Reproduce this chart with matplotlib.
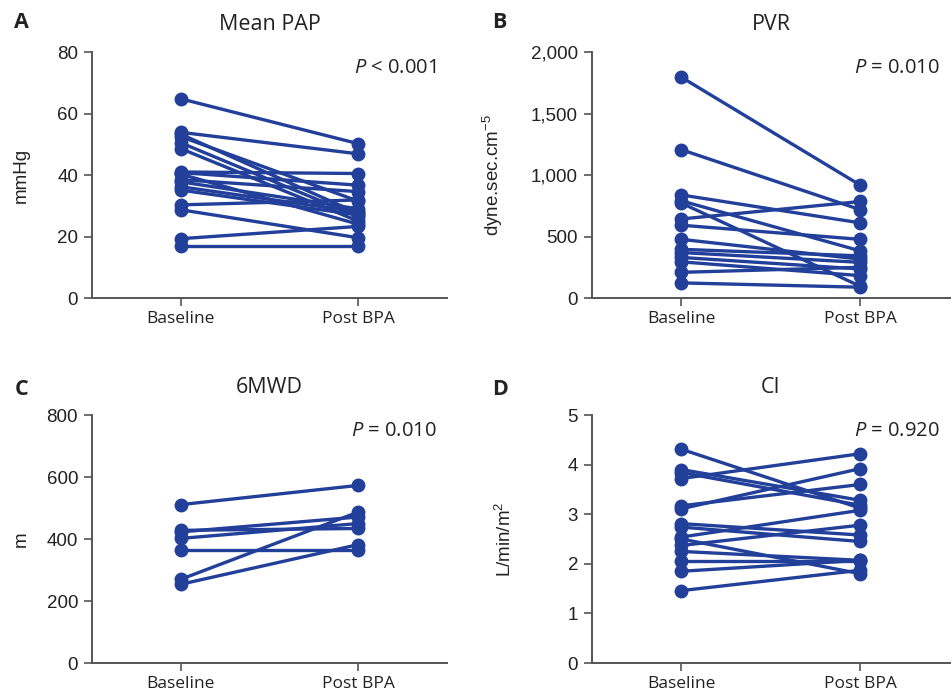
import matplotlib
matplotlib.use("Agg")
import matplotlib.pyplot as plt
from matplotlib.ticker import FuncFormatter

plt.rcParams["font.family"] = ["Liberation Sans", "DejaVu Sans"]
plt.rcParams["mathtext.fontset"] = "custom"
plt.rcParams["mathtext.rm"] = "Liberation Sans"
plt.rcParams["mathtext.it"] = "Open Sans:italic"

# -------- data --------
groups = ["Baseline", "Post BPA"]

pap_base = [64.8, 53.9, 53.3, 52.5, 50.5, 48.6, 41.0, 40.8, 40.3, 38.5, 37.8, 36.2, 35.1, 30.3, 28.7, 19.3, 16.9]
pap_post = [50.2, 46.9, 27.5, 31.5, 26.5, 25.0, 40.5, 36.7, 24.0, 34.6, 29.0, 28.0, 27.0, 31.9, 19.6, 23.3, 16.9]

pvr_base = [1795, 1206, 838, 790, 772, 643, 592, 477, 396, 370, 330, 294, 209, 123]
pvr_post = [917, 718, 611, 383, 95, 785, 477, 316, 343, 290, 236, 182, 250, 88]

mwd_base = [511, 428, 423, 402, 364, 270, 254]
mwd_post = [573, 434, 471, 450, 364, 487, 382]

ci_base = [4.31, 3.90, 3.84, 3.72, 3.17, 3.11, 2.81, 2.74, 2.54, 2.50, 2.37, 2.25, 2.05, 1.85, 1.46]
ci_post = [3.12, 3.28, 3.18, 4.22, 3.60, 3.92, 2.58, 2.45, 3.08, 1.80, 2.78, 2.07, 2.05, 2.07, 1.87]

panels = [
    ("A", "Mean PAP", "mmHg", pap_base, pap_post, (0, 80), [0, 20, 40, 60, 80], "$\\it{P}$ < 0.001"),
    ("B", "PVR", "dyne.sec.cm$^{\\mathrm{-5}}$", pvr_base, pvr_post, (0, 2000), [0, 500, 1000, 1500, 2000], "$\\it{P}$ = 0.010"),
    ("C", "6MWD", "m", mwd_base, mwd_post, (0, 800), [0, 200, 400, 600, 800], "$\\it{P}$ = 0.010"),
    ("D", "CI", "L/min/m$^{\\mathrm{2}}$", ci_base, ci_post, (0, 5), [0, 1, 2, 3, 4, 5], "$\\it{P}$ = 0.920"),
]

LINE = "#22409a"
SPINE = "#555555"
TEXT = "#222222"
SANS2 = ["Open Sans", "DejaVu Sans"]

fig = plt.figure(figsize=(9.52, 6.96), dpi=100)

# axes rectangles in figure fraction
rects = [
    (0.0966, 0.5718, 0.373, 0.3534),
    (0.6218, 0.5718, 0.376, 0.3534),
    (0.0966, 0.0474, 0.373, 0.3563),
    (0.6218, 0.0474, 0.376, 0.3563),
]
letter_pos = [(0.023, 0.967), (0.525, 0.967), (0.023, 0.440), (0.525, 0.440)]
ylabel_x = [-0.175, -0.243, -0.175, -0.215]

for (letter, title, ylab, base, post, ylim, yticks, ptxt), rect, lp, ylx in zip(
    panels, rects, letter_pos, ylabel_x
):
    ax = fig.add_axes(rect)
    for b, p in zip(base, post):
        ax.plot([0, 1], [b, p], color=LINE, lw=2.4, marker="o", ms=9,
                solid_capstyle="round", clip_on=False)

    ax.set_xlim(-0.5, 1.5)
    ax.set_ylim(*ylim)
    ax.set_yticks(yticks)
    ax.set_xticks([0, 1])
    ax.set_xticklabels(groups, fontsize=12.5, family=SANS2, color=TEXT)
    if letter == "B":
        ax.yaxis.set_major_formatter(FuncFormatter(lambda v, _: f"{int(v):,}"))
    ax.tick_params(axis="y", labelsize=13.5, length=6, width=1.2, color=SPINE, pad=4, labelcolor=TEXT)
    ax.tick_params(axis="x", length=6, width=1.2, color=SPINE, pad=3)

    for s in ["top", "right"]:
        ax.spines[s].set_visible(False)
    for s in ["left", "bottom"]:
        ax.spines[s].set_color(SPINE)
        ax.spines[s].set_linewidth(1.4)

    ax.set_ylabel(ylab, fontsize=13.5, color=TEXT)
    ax.yaxis.set_label_coords(ylx, 0.5)

    ax.set_title(title, fontsize=15.5, pad=16, family=SANS2, color=TEXT)
    ax.text(0.97, 0.935, ptxt, transform=ax.transAxes, ha="right", va="center",
            fontsize=14.5, family=SANS2, color=TEXT)

    fig.text(lp[0], lp[1], letter, fontsize=15.5, fontweight="bold", ha="center", va="center",
             family=SANS2, color=TEXT)

fig.savefig("out.png", dpi=100)
